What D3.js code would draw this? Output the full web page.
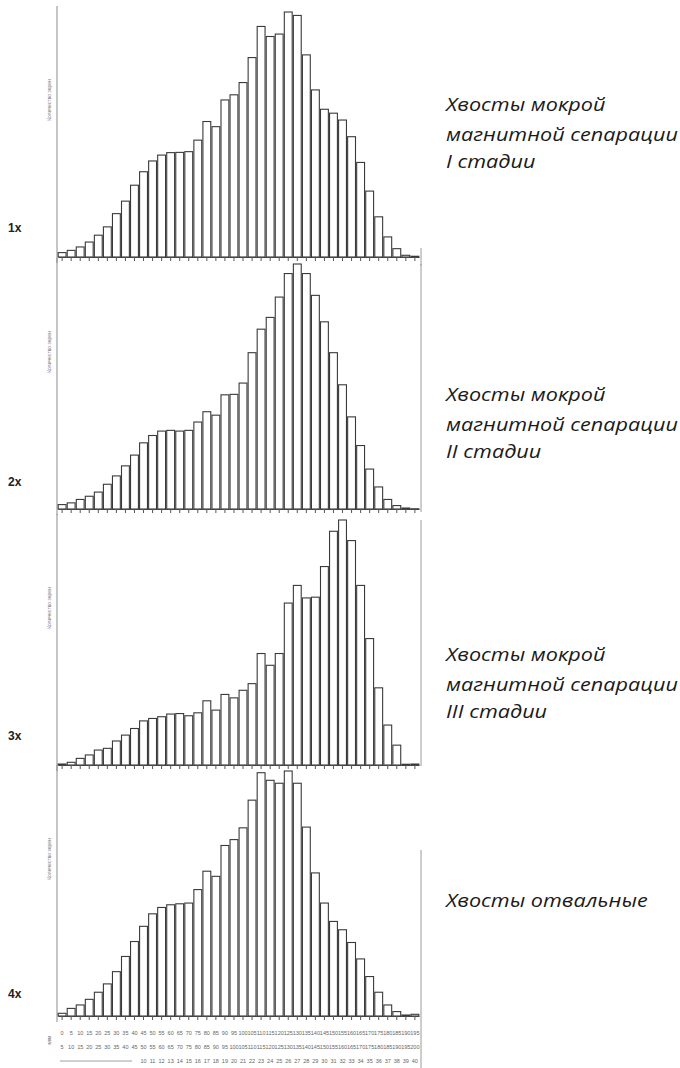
<!DOCTYPE html>
<html><head><meta charset="utf-8">
<script src="https://cdn.jsdelivr.net/npm/d3@7"></script>
<style>
html,body{margin:0;padding:0;background:#fff;}
svg{display:block;}
</style></head><body>
<svg id="chart" width="680" height="1068"></svg>
<script>
// Size classes (bin numbers) shared by all four histograms
const sizeClasses = ["1","2","3","4","5","6","7","8","9","10","11","12","13","14","15","16","17","18","19","20",
  "21","22","23","24","25","26","27","28","29","30","31","32","33","34","35","36","37","38","39","40"];

// Relative frequency per class, % of the modal class
const stage1 = [1.8,2.7,4.1,6.1,8.9,12.3,17.7,22.8,29.3,34.8,39.2,41.6,42.6,42.7,43.0,47.7,55.3,53.2,64.1,66.2,
  71.2,81.4,94.1,90.0,91.0,100,98.6,82.5,68.2,60.3,58.7,55.9,49.1,38.6,26.9,16.4,8.2,3.4,0.7,0.3];
const stage2 = [1.8,2.5,3.9,5.2,6.9,10.1,13.5,17.6,22.0,27.0,30.0,31.8,32.1,31.8,32.1,35.5,39.7,38.3,46.6,46.8,
  51.4,63.8,73.4,78.2,86.5,96.1,100,96.1,87.2,76.4,63.8,50.7,37.6,25.9,16.3,9.0,3.9,1.4,0.4,0.1];
const stage3 = [0.4,1.1,2.7,4.1,6.1,6.8,9.8,12.2,14.9,18.0,19.0,19.7,20.8,21.0,20.1,21.3,26.2,22.4,28.8,27.4,
  30.5,33.2,45.5,40.7,45.5,66.1,73.3,68.2,68.5,81.0,95.4,100,91.6,73.3,51.6,31.5,16.3,8.1,0.3,0.4];
const stage4 = [1.1,3.1,4.5,6.8,9.7,13.1,18.1,24.3,30.4,36.6,41.7,44.3,45.4,45.8,46.1,51.6,59.1,57.0,69.6,72.0,
  76.8,88.1,99.3,96.2,95.0,100,95.0,77.1,58.4,46.1,38.6,35.2,30.0,23.3,16.1,9.7,4.5,1.8,0.4,0.7];

// Class boundary labels printed under the last histogram
const classFrom = ["0","5","10","15","20","25","30","35","40","45","50","55","60","65","70","75","80","85","90","95",
  "100","105","110","115","120","125","130","135","140","145","150","155","160","165","170","175","180","185","190","195"];
const classTo = ["5","10","15","20","25","30","35","40","45","50","55","60","65","70","75","80","85","90","95","100",
  "105","110","115","120","125","130","135","140","145","150","155","160","165","170","175","180","185","190","195","200"];

const stageLabels = ["1x","2x","3x","4x"];
const stageCaptions = [
  ["Хвосты мокрой","магнитной сепарации","I стадии"],
  ["Хвосты мокрой","магнитной сепарации","II стадии"],
  ["Хвосты мокрой","магнитной сепарации","III стадии"],
  ["Хвосты отвальные"]
];
const yTitle = "Количество зерен";

const stages = [stage1, stage2, stage3, stage4];

// ---- layout ----
const svg = d3.select("#chart");
const baselines = [257, 509, 765, 1016];
const plotH = 245;
const axisX = 57;
const x = d3.scaleBand().domain(sizeClasses).range([58, 419]).paddingInner(0.13).paddingOuter(0.02);
const captionTop = [111, 401, 661, 907];
const captionLineOffsets = [0, 30.5, 57];
const labelY = [232, 486, 740, 998];
const rightLine = [[248, 266], [264, 512], [520, 766], [850, 1068]];

stages.forEach((vals, k) => {
  const base = baselines[k];
  const y = d3.scaleLinear().domain([0, 100]).range([base, base - plotH]);
  const g = svg.append("g");

  // left axis line (continuous through the stack)
  g.append("line")
    .attr("x1", axisX).attr("x2", axisX)
    .attr("y1", base - plotH - 6).attr("y2", base + 6)
    .attr("stroke", "#8a8a8a").attr("stroke-width", 1);

  // right frame line
  g.append("line")
    .attr("x1", 421).attr("x2", 421)
    .attr("y1", rightLine[k][0]).attr("y2", rightLine[k][1])
    .attr("stroke", "#9a9a9a").attr("stroke-width", 1);

  // bars
  g.selectAll("rect").data(vals).join("rect")
    .attr("x", (d, i) => x(sizeClasses[i]))
    .attr("width", x.bandwidth())
    .attr("y", d => y(d))
    .attr("height", d => base - y(d))
    .attr("fill", "#fff")
    .attr("stroke", "#3a3a3a")
    .attr("stroke-width", 1.1);

  // baseline with ticks
  const ax = g.append("g")
    .attr("transform", `translate(0,${base})`)
    .call(d3.axisBottom(x).tickSize(4).tickSizeOuter(0).tickFormat(""));
  ax.select(".domain").attr("stroke", "#444").attr("stroke-width", 1.2);
  ax.selectAll(".tick line").attr("stroke", "#555");

  // rotated y-axis title
  g.append("text")
    .attr("transform", `translate(51,${base - 157}) rotate(-90)`)
    .attr("text-anchor", "middle")
    .attr("font-family", "Liberation Sans, Arial, sans-serif")
    .attr("font-size", 5)
    .attr("fill", "#777")
    .text(yTitle);

  // stage label at the left
  g.append("text")
    .attr("x", 8).attr("y", labelY[k])
    .attr("font-family", "Liberation Sans, Arial, sans-serif")
    .attr("font-weight", "bold")
    .attr("font-size", 12)
    .attr("fill", "#222")
    .text(stageLabels[k]);

  // caption at the right (slightly widened italic)
  const cap = g.append("text")
    .attr("transform", `translate(446,${captionTop[k]}) scale(1.235,1)`)
    .attr("font-family", "Open Sans, sans-serif")
    .attr("font-style", "italic")
    .attr("font-size", 17.5)
    .attr("fill", "#1a1a1a");
  stageCaptions[k].forEach((line, j) => {
    cap.append("tspan").attr("x", 0).attr("y", captionLineOffsets[j]).text(line);
  });
});

// class boundary rows under the last histogram
const rows = svg.append("g")
  .attr("font-family", "Liberation Sans, Arial, sans-serif")
  .attr("font-size", 5.5)
  .attr("fill", "#666")
  .attr("text-anchor", "middle");
rows.selectAll("text.from").data(classFrom).join("text")
  .attr("class", "from")
  .attr("x", (d, i) => x(sizeClasses[i]) + x.bandwidth() / 2)
  .attr("y", 1035)
  .text(d => d);
rows.selectAll("text.to").data(classTo).join("text")
  .attr("class", "to")
  .attr("x", (d, i) => x(sizeClasses[i]) + x.bandwidth() / 2)
  .attr("y", 1049)
  .text(d => d);
rows.selectAll("text.num").data(sizeClasses.slice(9)).join("text")
  .attr("class", "num")
  .attr("x", (d, i) => x(sizeClasses[i + 9]) + x.bandwidth() / 2)
  .attr("y", 1063)
  .text(d => d);
svg.append("line").attr("x1", 60).attr("x2", 132).attr("y1", 1061).attr("y2", 1061)
  .attr("stroke", "#888").attr("stroke-width", 0.8);
svg.append("text")
  .attr("transform", "translate(51,1040) rotate(-90)")
  .attr("text-anchor", "middle")
  .attr("font-family", "Liberation Sans, Arial, sans-serif")
  .attr("font-size", 5).attr("fill", "#666")
  .text("мкм");
</script>
</body></html>
